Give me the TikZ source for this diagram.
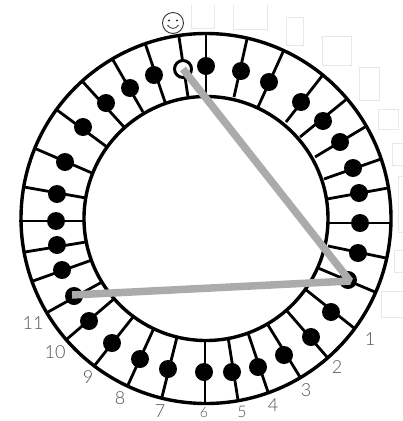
\documentclass[tikz,border=0pt]{standalone}
\usepackage{fontspec}
\setmainfont{Lato Light}[BoldFont=Lato]
\begin{document}
\begin{tikzpicture}[x=1pt,y=-1pt,
  ring/.style={draw=black,line width=3.4pt},
  spoke/.style={draw=black,line width=2.8pt},
  bead/.style={circle,fill=black,draw=none,minimum size=18pt,inner sep=0pt},
  openbead/.style={circle,fill=white,draw=black,line width=3pt,minimum size=17pt,inner sep=0pt},
  chord/.style={draw=black!33,line width=7.5pt,line join=bevel},
  ghost/.style={draw=black!9,line width=0.7pt},
  num/.style={text=black!68,font=\fontsize{18}{18}\selectfont,inner sep=0pt}]
\useasboundingbox (0,0) rectangle (403,421);
% faint rectangles
\draw[ghost] (191,5) -- (191,28) -- (214,28) -- (214,5);
\draw[ghost] (233,5) -- (233,29) -- (267,29) -- (267,5);
\draw[ghost] (286,17) rectangle (303,45);
\draw[ghost] (322,36) rectangle (351,65);
\draw[ghost] (359,67) rectangle (379,100);
\draw[ghost] (378,109) rectangle (398,129);
\draw[ghost] (403,143) -- (392,143) -- (392,165) -- (403,165);
\draw[ghost] (403,176) -- (398,176) -- (398,232) -- (403,232);
\draw[ghost] (403,250) -- (394,250) -- (394,272) -- (403,272);
\draw[ghost] (403,291) -- (381,291) -- (381,317) -- (403,317);
% rings
\coordinate (c) at (206,218.5);
\draw[ring] (c) circle[radius=185];
\draw[ring] (c) circle[radius=122];
% spokes and beads: outer end / bead / inner end
\foreach \i/\ox/\oy/\dx/\dy/\ix/\iy in {
 1/179/37/183/69/188/97,
 2/206/33/206/66/206/97,
 3/247/39/241/71/234/97,
 4/283/52/269/82/258/107,
 5/322/76/301/102/286/122,
 6/348/98/323/121/300/137,
 7/365/127/340/142/315/157,
 8/381/159/353/168/324/179,
 9/388/188/359/193/327/199,
 10/391/223/360/223/329/223,
 11/386/258/358/253/328/246,
 12/375/292/348/280/318/268,
 13/354/328/331/312/305/289,
 14/327/357/311/337/287/311,
 15/300/377/284/355/268/325,
 16/268/392/258/367/248/333,
 17/238/400/232/372/228/337,
 18/205/404/204/372/205/339,
 19/162/397/168/369/177/337,
 20/128/385/140/359/154/328,
 21/95/365/112/343/133/317,
 22/67/339/89/321/115/298,
 23/48/312/74/296/102/282,
 24/33/281/62/270/92/260,
 25/25/252/57/245/86/242,
 26/19/221/56/221/85/221,
 27/24/187/57/194/86/198,
 28/34/148/65/162/92/173,
 29/57/110/83/127/107/147,
 30/83/82/106/103/124/127,
 31/113/60/130/88/143/112,
 32/145/43/154/75/165/102}{
  \coordinate (o\i) at (\ox,\oy);
  \coordinate (n\i) at (\ix,\iy);
  \draw[spoke] (o\i) -- (n\i);
  \ifnum\i=1
    \node[openbead] (d\i) at (\dx,\dy) {};
  \else
    \node[bead] (d\i) at (\dx,\dy) {};
  \fi
}
% chords
\coordinate (cornerR) at (350,281);
\coordinate (endL) at (72,295);
\draw[chord] (d1.center) -- (cornerR) -- (endL);
% smiley
\node[circle,draw=black!80,line width=0.9pt,minimum size=21pt,inner sep=0pt] (face) at (173,23) {};
\fill[black!80] (169,20.5) circle[radius=1.1] (177,20.5) circle[radius=1.1];
\draw[black!80,line width=0.8pt] (167.5,25) .. controls (170,29.5) and (176,29.5) .. (178.5,25);
% numbers
\node[num] (l1) at (370,339) {1};
\node[num] (l2) at (337,367) {2};
\node[num] (l3) at (306,390) {3};
\node[num] (l4) at (273,405) {4};
\node[num,font=\fontsize{16}{16}\selectfont] (l5) at (242,411.5) {5};
\node[num,font=\fontsize{14}{14}\selectfont] (l6) at (204,412.5) {6};
\node[num] (l7) at (160,411) {7};
\node[num] (l8) at (120,398) {8};
\node[num] (l9) at (88,377) {9};
\node[num] (l10) at (55,352) {10};
\node[num] (l11) at (33,323) {11};
\end{tikzpicture}
\end{document}
